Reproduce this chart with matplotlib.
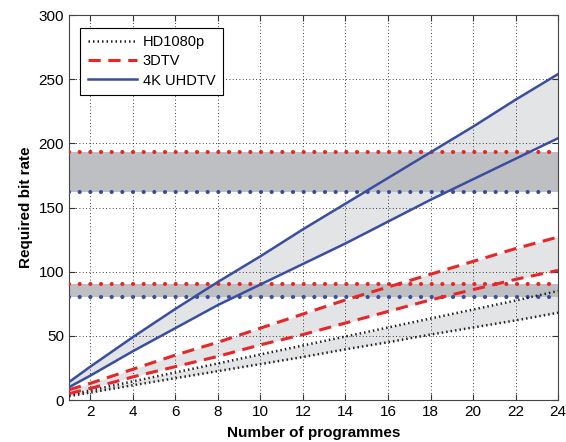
import matplotlib
matplotlib.use('Agg')
import matplotlib.pyplot as plt
import numpy as np

plt.rcParams['font.family'] = ['Liberation Sans Narrow', 'Liberation Sans', 'DejaVu Sans']

# number of programmes
x = [1, 2, 4, 6, 8, 10, 12, 14, 16, 18, 20, 22, 24]

# required bit rate, upper and lower bound for each format
hd_hi = [4, 7.5, 14.5, 21.5, 28.5, 35.5, 42.5, 49.5, 56.5, 63.5, 70.5, 77.5, 85]
hd_lo = [3, 5.8, 11.5, 17, 22.5, 28, 33.5, 39.5, 45, 51, 56.5, 62, 68]
tv3d_hi = [8, 13, 24, 35, 45, 56, 67, 78, 88, 98, 108, 118, 127]
tv3d_lo = [5, 9, 18, 26, 34, 43, 51, 60, 69, 78, 86, 94, 101]
uhd_hi = [14, 26, 49, 71, 92, 112, 133, 153, 173, 193, 213, 234, 254]
uhd_lo = [10, 19, 38, 56, 74, 90, 106, 122, 139, 156, 172, 188, 204]

# capacity limits (red = upper, blue = lower)
cap_hi = [193, 90.5]
cap_lo = [162, 80.5]

RED = '#e8262a'
BLUE = '#3a4ea0'

fig = plt.figure(figsize=(5.66, 4.42), dpi=100)
ax = fig.add_axes([0.122, 0.095, 0.864, 0.871])

for lo, hi in [(hd_lo, hd_hi), (tv3d_lo, tv3d_hi), (uhd_lo, uhd_hi)]:
    ax.fill_between(x, lo, hi, color='#e3e4e6', lw=0, zorder=1)

for lo, hi in zip(cap_lo, cap_hi):
    ax.axhspan(lo, hi, color='#bebfc3', lw=0, zorder=2)
    ax.axhline(hi, color=RED, lw=3.0, ls=(0, (0.01, 2.55)), dash_capstyle='round', zorder=3)
    ax.axhline(lo, color=BLUE, lw=3.0, ls=(0, (0.01, 2.55)), dash_capstyle='round', zorder=3)

ax.plot(x, hd_hi, color='#222222', lw=1.8, ls=(0, (0.6, 1.2)), zorder=4, label='HD1080p')
ax.plot(x, hd_lo, color='#222222', lw=1.8, ls=(0, (0.6, 1.2)), zorder=4)
ax.plot(x, tv3d_hi, color=RED, lw=2.2, ls=(0, (4, 2.5)), zorder=4, label='3DTV')
ax.plot(x, tv3d_lo, color=RED, lw=2.2, ls=(0, (4, 2.5)), zorder=4)
ax.plot(x, uhd_hi, color=BLUE, lw=1.8, zorder=4, label='4K UHDTV')
ax.plot(x, uhd_lo, color=BLUE, lw=1.8, zorder=4)

ax.set_xlim(1, 24)
ax.set_ylim(0, 300)
ax.set_xticks(np.arange(2, 25, 2))
ax.set_yticks(np.arange(0, 301, 50))
ax.grid(True, color='black', ls=(0, (1, 3)), lw=0.6)
for gl in ax.get_xgridlines() + ax.get_ygridlines():
    gl.set_zorder(1.5)
ax.tick_params(direction='in', top=True, right=True, labelsize=11, length=4, color='#333333')
for s in ax.spines.values():
    s.set_color('#444444')
    s.set_linewidth(0.8)

ax.set_xlabel('Number of programmes', fontsize=11, fontweight='bold', labelpad=5)
ax.set_ylabel('Required bit rate', fontsize=11, fontweight='bold', labelpad=4)

leg = ax.legend(loc='upper left', fontsize=10.5, fancybox=False, framealpha=1,
                edgecolor='black', handlelength=3.4, borderpad=0.5,
                labelspacing=0.35, handletextpad=0.4, bbox_to_anchor=(0.008, 0.985))
leg.get_frame().set_linewidth(0.8)

fig.savefig('out.png', dpi=100)
